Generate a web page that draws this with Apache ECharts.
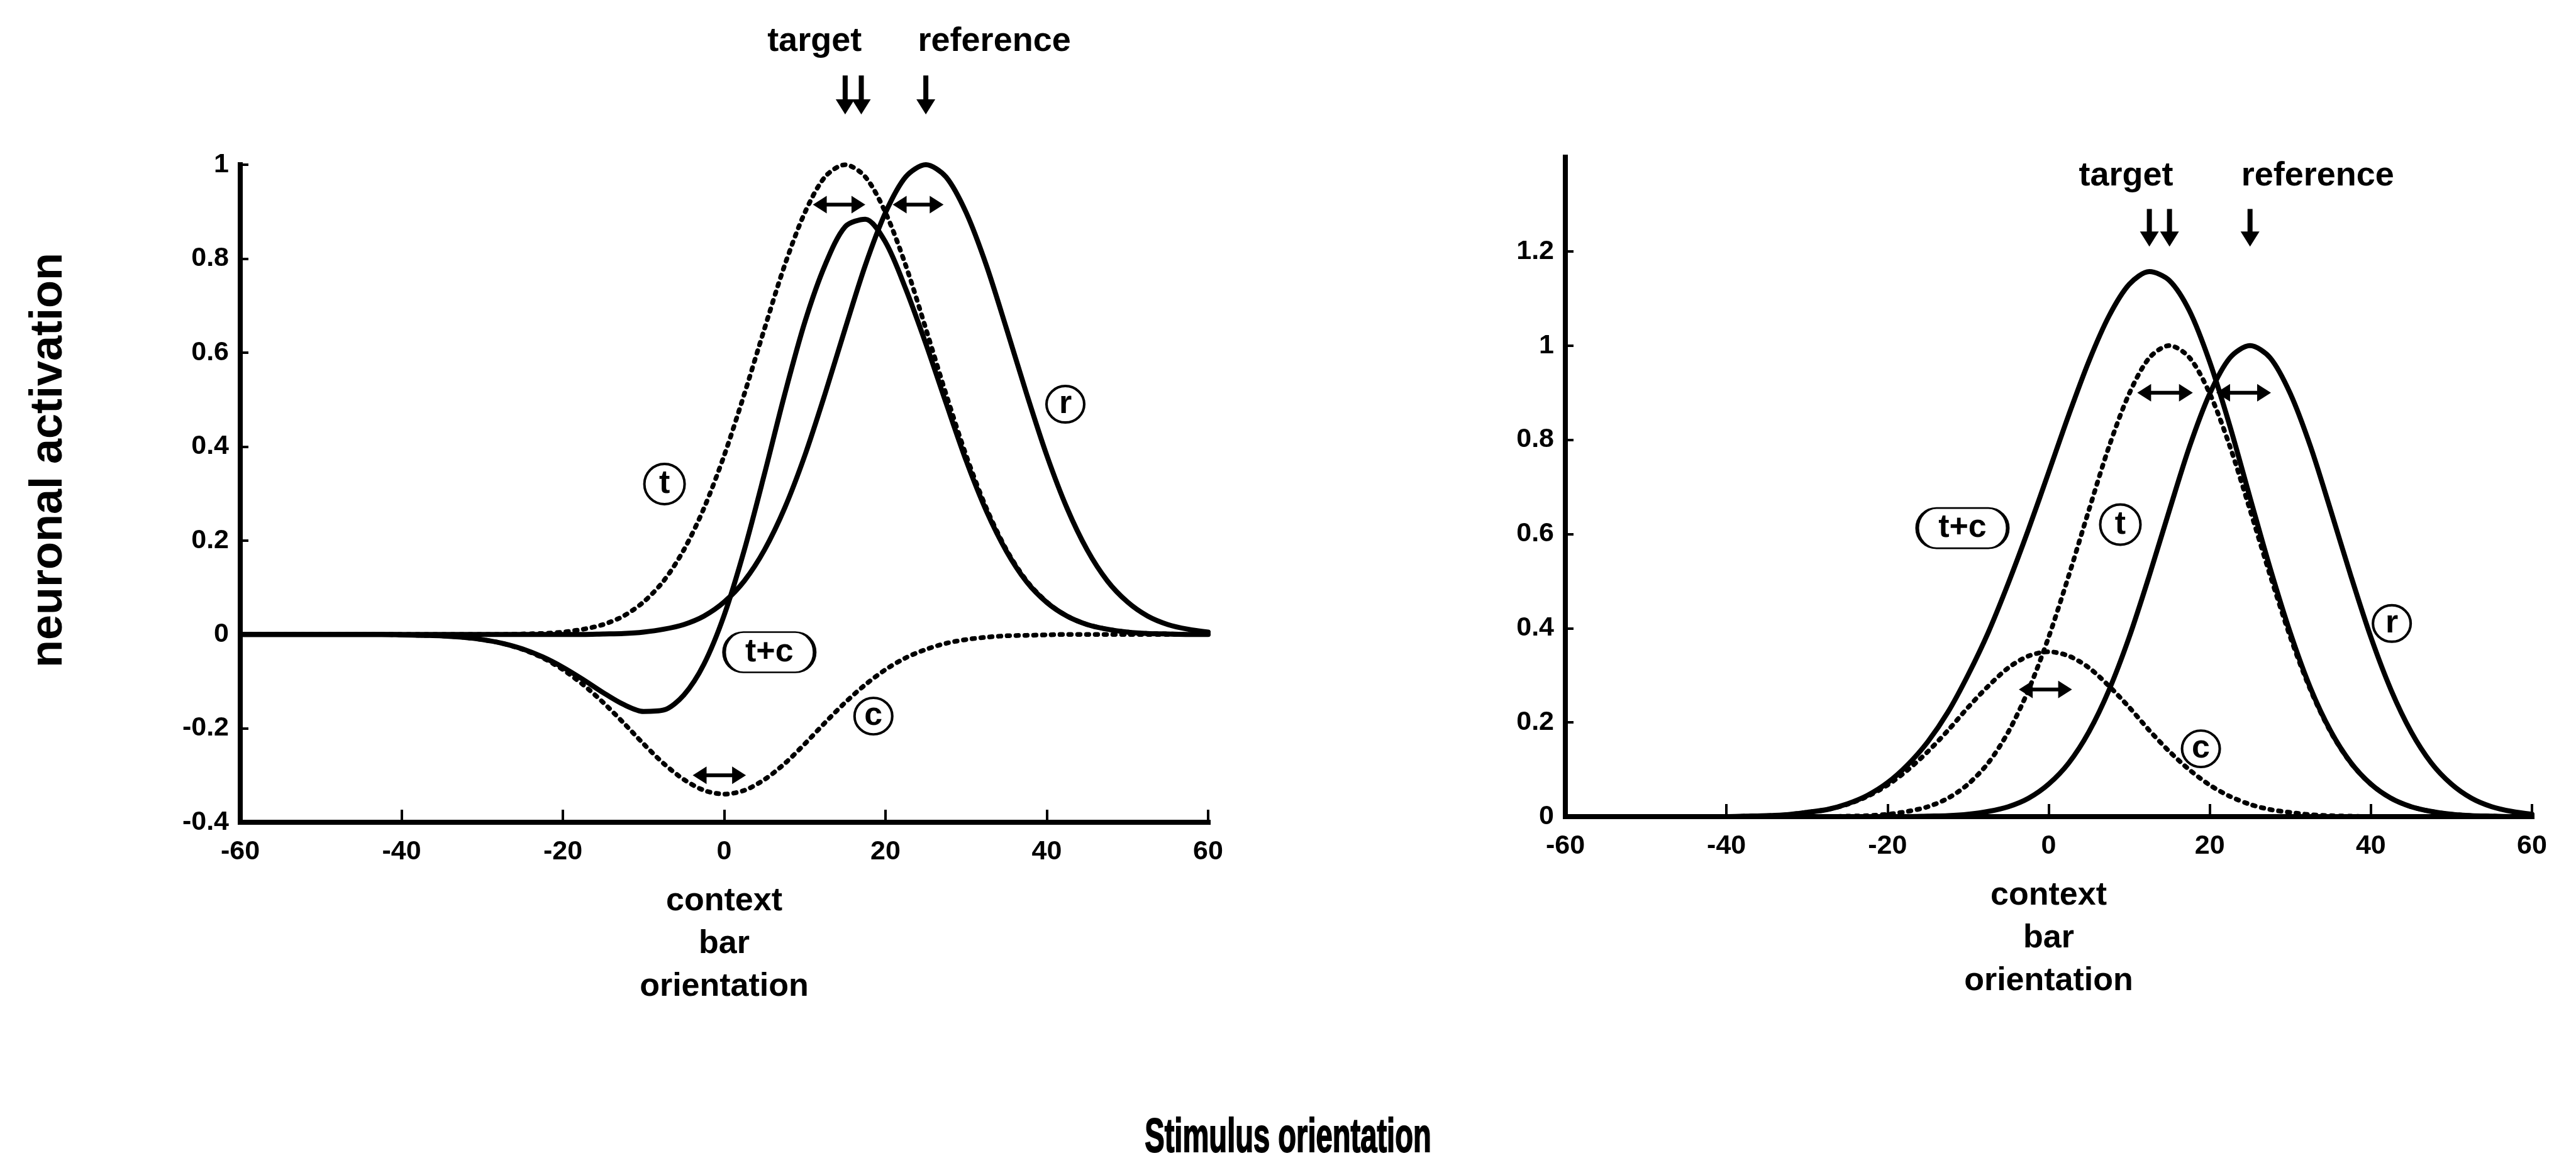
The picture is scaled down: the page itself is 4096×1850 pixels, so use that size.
<!DOCTYPE html>
<html>
<head>
<meta charset="utf-8">
<style>
  html, body { margin: 0; padding: 0; background: #fff; }
  #chart { width: 4096px; height: 1850px; }
</style>
<script src="https://cdn.jsdelivr.net/npm/echarts@6/dist/echarts.min.js"></script>
</head>
<body>
<div id="chart"></div>
<script>
// Stimulus orientation samples (deg)
const orientations = [-60, -57.5, -55, -52.5, -50, -47.5, -45, -42.5, -40, -37.5, -35, -32.5, -30, -27.5, -25, -22.5, -20, -17.5, -15, -12.5, -10, -7.5, -5, -2.5, 0, 2.5, 5, 7.5, 10, 12.5, 15, 17.5, 20, 22.5, 25, 27.5, 30, 32.5, 35, 37.5, 40, 42.5, 45, 47.5, 50, 52.5, 55, 57.5, 60];

// Target-alone tuning curve (t), same in both panels
const targetResp = [0, 0, 0, 0, 0, 0, 0, 0, 0, 0, 0, 0, 0, 0, 0.001, 0.002, 0.005, 0.011, 0.021, 0.039, 0.069, 0.114, 0.180, 0.269, 0.381, 0.512, 0.651, 0.786, 0.898, 0.974, 1, 0.974, 0.898, 0.786, 0.651, 0.512, 0.381, 0.269, 0.180, 0.114, 0.069, 0.039, 0.021, 0.011, 0.005, 0.002, 0.001, 0, 0];

// Reference tuning curve (r), same in both panels
const referenceResp = [0, 0, 0, 0, 0, 0, 0, 0, 0, 0, 0, 0, 0, 0, 0, 0, 0, 0, 0.001, 0.002, 0.005, 0.011, 0.021, 0.039, 0.069, 0.114, 0.180, 0.269, 0.381, 0.512, 0.651, 0.786, 0.898, 0.974, 1, 0.974, 0.898, 0.786, 0.651, 0.512, 0.381, 0.269, 0.180, 0.114, 0.069, 0.039, 0.021, 0.011, 0.005];

// Left panel: inhibitory context (c) and combined response (t+c)
const contextInhib = [0, 0, 0, 0, 0, 0, 0, 0, -0.001, -0.002, -0.003, -0.006, -0.011, -0.019, -0.032, -0.050, -0.075, -0.107, -0.145, -0.188, -0.233, -0.275, -0.309, -0.332, -0.340, -0.332, -0.309, -0.275, -0.233, -0.188, -0.145, -0.107, -0.075, -0.050, -0.032, -0.019, -0.011, -0.006, -0.003, -0.002, -0.001, 0, 0, 0, 0, 0, 0, 0, 0];
const combinedInhib = [0, 0, 0, 0, 0, 0, 0, 0, -0.001, -0.002, -0.003, -0.006, -0.011, -0.019, -0.031, -0.048, -0.070, -0.096, -0.124, -0.149, -0.164, -0.161, -0.129, -0.063, 0.041, 0.180, 0.342, 0.511, 0.665, 0.786, 0.868, 0.884, 0.835, 0.736, 0.619, 0.493, 0.370, 0.263, 0.177, 0.112, 0.068, 0.039, 0.021, 0.011, 0.005, 0.002, 0.001, 0, 0];

// Right panel: facilitatory context (c) and combined response (t+c)
const contextFacil = [0, 0, 0, 0, 0, 0, 0, 0, 0, 0.001, 0.002, 0.004, 0.009, 0.015, 0.026, 0.043, 0.067, 0.099, 0.138, 0.183, 0.232, 0.277, 0.316, 0.341, 0.350, 0.341, 0.316, 0.277, 0.232, 0.183, 0.138, 0.099, 0.067, 0.043, 0.026, 0.015, 0.009, 0.004, 0.002, 0.001, 0, 0, 0, 0, 0, 0, 0, 0, 0];
const combinedFacil = [0, 0, 0, 0, 0, 0, 0, 0, 0, 0.001, 0.002, 0.004, 0.009, 0.015, 0.027, 0.045, 0.072, 0.110, 0.159, 0.222, 0.301, 0.391, 0.496, 0.610, 0.731, 0.853, 0.967, 1.063, 1.130, 1.157, 1.138, 1.073, 0.965, 0.829, 0.677, 0.527, 0.390, 0.273, 0.182, 0.115, 0.069, 0.039, 0.021, 0.011, 0.005, 0.002, 0.001, 0, 0];

// Tick values
const xTicks = [-60, -40, -20, 0, 20, 40, 60];
const yTicksLeft = [-0.4, -0.2, 0, 0.2, 0.4, 0.6, 0.8, 1];
const yTicksRight = [0, 0.2, 0.4, 0.6, 0.8, 1, 1.2];

// Peak-shift arrows: [fromX, toX, y]
const shiftArrowsLeft = [[11, 17.5, 0.915], [20.9, 27.2, 0.915], [-3.9, 2.7, -0.30]];
const shiftArrowsRight = [[11, 17.9, 0.9], [20.8, 27.6, 0.9], [-3.7, 2.9, 0.27]];

// Peak markers above the curves: [x, yTop, yTip]
const peakMarksLeft = [[15, 1.19, 1.107], [17, 1.19, 1.107], [25, 1.19, 1.107]];
const peakMarksRight = [[12.5, 1.29, 1.21], [15, 1.29, 1.21], [25, 1.29, 1.21]];

// Marker captions
const captionText = ['target', 'reference'];
const captionAtLeft = [[11.2, 1.262], [33.5, 1.262]];
const captionAtRight = [[9.6, 1.36], [33.4, 1.36]];

// Curve tags
const tagText = ['t', 'r', 't+c', 'c'];
const tagAtLeft = [[-7.4, 0.32], [42.3, 0.49], [5.6, -0.038], [18.5, -0.174]];
const tagAtRight = [[8.9, 0.62], [42.6, 0.41], [-10.7, 0.6125], [18.9, 0.144]];

const INK = '#000';
const FONT = '"Liberation Sans", Arial, Helvetica, sans-serif';
const TICK_FONT = 43;
const CAPTION_FONT = 54;
const NOTE_FONT = 52;
const TAG_FONT = 52;

const pairs = ys => orientations.map((x, i) => [x, ys[i]]);
const fmt = v => String(Math.round(v * 10) / 10);

const tagSymbol = {
  't': { symbol: 'circle', size: [64, 64] },
  'r': { symbol: 'circle', size: [60, 58] },
  'c': { symbol: 'circle', size: [60, 58] },
  't+c': { symbol: 'path://M30,0 L110,0 A30,30 0 0 1 110,60 L30,60 A30,30 0 0 1 30,0 Z', size: [144, 64] }
};

function xAxisFor(gridIndex) {
  return {
    gridIndex, type: 'value', min: -60, max: 60, interval: 20,
    axisLine: { show: true, onZero: false, lineStyle: { color: INK, width: 8, cap: 'square' } },
    axisTick: { show: true, inside: true, length: 20, customValues: xTicks, lineStyle: { color: INK, width: 4 } },
    axisLabel: { customValues: xTicks, formatter: fmt, margin: 26, color: INK, fontFamily: FONT, fontWeight: 'bold', fontSize: TICK_FONT },
    splitLine: { show: false }
  };
}
function yAxisFor(gridIndex, min, max, ticks) {
  return {
    gridIndex, type: 'value', min, max, interval: 0.2,
    axisLine: { show: true, onZero: false, lineStyle: { color: INK, width: 8, cap: 'square' } },
    axisTick: { show: true, inside: true, length: 13, customValues: ticks, lineStyle: { color: INK, width: 4 } },
    axisLabel: { customValues: ticks, formatter: fmt, margin: 18, color: INK, fontFamily: FONT, fontWeight: 'bold', fontSize: TICK_FONT },
    splitLine: { show: false }
  };
}

function curve(name, ys, panel, dotted) {
  return {
    name, type: 'line', xAxisIndex: panel, yAxisIndex: panel,
    data: pairs(ys), showSymbol: false, symbol: 'none', smooth: 0.3, z: 3,
    lineStyle: dotted
      ? { color: INK, width: 7.5, type: [4, 10], cap: 'round' }
      : { color: INK, width: 8, type: 'solid', cap: 'round', join: 'round' },
    silent: true
  };
}

function shiftArrowSeries(arrows, panel) {
  return {
    type: 'custom', xAxisIndex: panel, yAxisIndex: panel, clip: false, z: 6, silent: true,
    data: arrows,
    renderItem(params, api) {
      const a = api.coord([api.value(0), api.value(2)]);
      const b = api.coord([api.value(1), api.value(2)]);
      const head = 22, half = 14, shaft = 6;
      const y = a[1];
      return {
        type: 'group',
        children: [
          { type: 'rect', shape: { x: a[0] + head - 2, y: y - shaft / 2, width: b[0] - a[0] - 2 * head + 4, height: shaft }, style: { fill: INK } },
          { type: 'polygon', shape: { points: [[a[0], y], [a[0] + head, y - half], [a[0] + head, y + half]] }, style: { fill: INK } },
          { type: 'polygon', shape: { points: [[b[0], y], [b[0] - head, y - half], [b[0] - head, y + half]] }, style: { fill: INK } }
        ]
      };
    }
  };
}

function peakMarkSeries(marks, panel) {
  return {
    type: 'custom', xAxisIndex: panel, yAxisIndex: panel, clip: false, z: 6, silent: true,
    data: marks,
    renderItem(params, api) {
      const top = api.coord([api.value(0), api.value(1)]);
      const tip = api.coord([api.value(0), api.value(2)]);
      const head = 24, half = 15, shaft = 8;
      return {
        type: 'group',
        children: [
          { type: 'rect', shape: { x: top[0] - shaft / 2, y: top[1], width: shaft, height: tip[1] - head - top[1] + 2 }, style: { fill: INK } },
          { type: 'polygon', shape: { points: [[tip[0] - half, tip[1] - head], [tip[0] + half, tip[1] - head], [tip[0], tip[1]]] }, style: { fill: INK } }
        ]
      };
    }
  };
}

function captionSeries(at, panel) {
  return {
    type: 'custom', xAxisIndex: panel, yAxisIndex: panel, clip: false, z: 6, silent: true,
    data: at,
    renderItem(params, api) {
      const p = api.coord([api.value(0), api.value(1)]);
      return {
        type: 'text', x: p[0], y: p[1],
        style: { text: captionText[params.dataIndex], fill: INK, fontFamily: FONT, fontWeight: 'bold', fontSize: CAPTION_FONT, align: 'center', verticalAlign: 'middle' }
      };
    }
  };
}

// "context bar orientation" note hanging under x = 0
function contextNoteSeries(panel, yMin) {
  return {
    type: 'custom', xAxisIndex: panel, yAxisIndex: panel, clip: false, z: 6, silent: true,
    data: [[0, yMin]],
    renderItem(params, api) {
      const p = api.coord([api.value(0), api.value(1)]);
      return {
        type: 'text', x: p[0], y: p[1] + 92,
        style: { text: 'context\nbar\norientation', fill: INK, fontFamily: FONT, fontWeight: 'bold', fontSize: NOTE_FONT, lineHeight: 68, align: 'center', verticalAlign: 'top' }
      };
    }
  };
}

function tagSeries(at, panel) {
  return {
    type: 'scatter', xAxisIndex: panel, yAxisIndex: panel, z: 7, silent: true, clip: false,
    data: at.map((p, i) => ({
      name: tagText[i], value: p,
      symbol: tagSymbol[tagText[i]].symbol,
      symbolSize: tagSymbol[tagText[i]].size,
      symbolKeepAspect: false
    })),
    itemStyle: { color: 'rgba(255,255,255,0)', borderColor: INK, borderWidth: 4, opacity: 1 },
    label: { show: true, position: 'inside', formatter: '{b}', color: INK, fontFamily: FONT, fontWeight: 'bold', fontSize: TAG_FONT },
    emphasis: { disabled: true }
  };
}

const chart = echarts.init(document.getElementById('chart'), null, { renderer: 'canvas', width: 4096, height: 1850 });

chart.setOption({
  animation: false,
  backgroundColor: '#fff',
  grid: [
    { left: 382, top: 262, width: 1539, height: 1046 },
    { left: 2489, top: 250, width: 1537, height: 1049 }
  ],
  xAxis: [xAxisFor(0), xAxisFor(1)],
  yAxis: [yAxisFor(0, -0.4, 1, yTicksLeft), yAxisFor(1, 0, 1.4, yTicksRight)],
  graphic: [
    {
      type: 'text', x: 78, y: 732, rotation: Math.PI / 2,
      style: { text: 'neuronal activation', fill: INK, fontFamily: FONT, fontWeight: 'bold', fontSize: 72, align: 'center', verticalAlign: 'middle', textAlign: 'center', textVerticalAlign: 'middle' }
    },
    {
      type: 'text', x: 2048, y: 1811, scaleX: 0.62,
      style: { text: 'Stimulus orientation', fill: INK, stroke: INK, lineWidth: 2, fontFamily: FONT, fontWeight: 'bold', fontSize: 76, align: 'center', verticalAlign: 'middle', textAlign: 'center', textVerticalAlign: 'middle' }
    }
  ],
  series: [
    curve('t', targetResp, 0, true),
    curve('c', contextInhib, 0, true),
    curve('r', referenceResp, 0, false),
    curve('t+c', combinedInhib, 0, false),
    shiftArrowSeries(shiftArrowsLeft, 0),
    peakMarkSeries(peakMarksLeft, 0),
    captionSeries(captionAtLeft, 0),
    contextNoteSeries(0, -0.4),
    tagSeries(tagAtLeft, 0),

    curve('t', targetResp, 1, true),
    curve('c', contextFacil, 1, true),
    curve('r', referenceResp, 1, false),
    curve('t+c', combinedFacil, 1, false),
    shiftArrowSeries(shiftArrowsRight, 1),
    peakMarkSeries(peakMarksRight, 1),
    captionSeries(captionAtRight, 1),
    contextNoteSeries(1, 0),
    tagSeries(tagAtRight, 1)
  ]
});
</script>
</body>
</html>
